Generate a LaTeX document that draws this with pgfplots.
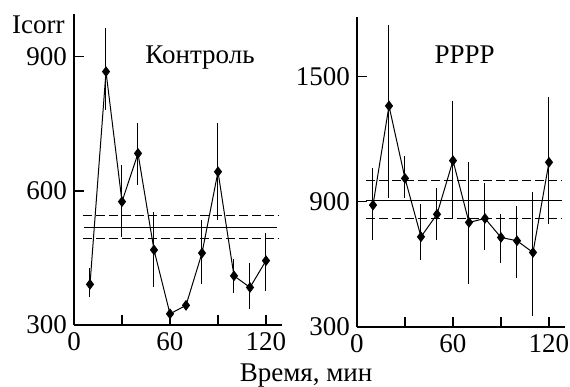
\documentclass[border=0pt]{standalone}
\usepackage{pgfplots}
\pgfplotsset{compat=1.18}
\usepackage{pgfplotstable}
\usepackage{fontspec}
\setmainfont{Liberation Serif}
\pgfplotstableread{
t v ep em
10 391 36 29
20 867 97 86
30 576 82 80
40 684 68 71
50 468 84 84
60 325 0 0
70 344 0 0
80 461 73 70
90 643 109 108
100 410 37 39
110 384 54 49
120 444 61 68
}\left
\pgfplotstableread{
t v ep em
10 884 176 168
20 1359 389 443
30 1012 107 96
40 732 156 109
50 840 127 121
60 1097 286 277
70 801 288 297
80 820 168 152
90 729 112 122
100 713 168 178
110 657 291 306
120 1089 315 297
}\right
\pgfplotsset{
  panel/.style={
    scale only axis, width=104pt,
    axis lines=left, axis line style={-, line width=0.7pt},
    xmin=0, xmax=130,
    xtick={0,30,60,90,120}, xticklabels={0,,60,,120},
    tick align=inside, major tick length=5pt,
    tick style={line width=0.6pt, black},
    tick label style={font=\fontsize{13.5}{16}\selectfont},
    /pgf/number format/assume math mode=true,
    /pgf/number format/1000 sep={},
    clip=false,
  },
  dat/.style={black, line width=0.5pt, mark=diamond*, mark size=2.3pt,
    mark options={solid, fill=black},
    error bars/.cd, y dir=both, y explicit,
    error bar style={line width=0.5pt}, error mark=none},
}
\begin{document}
\begin{tikzpicture}
\path[use as bounding box] (0,0) rectangle (285pt,193.5pt);
\begin{axis}[panel, at={(37pt,31pt)}, anchor=south west, height=155.5pt,
  ymin=300, ymax=996, ytick={300,600,900}]
\addplot[dat] table[x=t, y=v, y error plus=ep, y error minus=em] {\left};
\addplot[black, line width=0.5pt] coordinates {(6,518) (127,518)};
\addplot[black, line width=0.5pt, dash pattern=on 4.5pt off 2pt] coordinates {(5.5,544) (127.5,544)};
\addplot[black, line width=0.5pt, dash pattern=on 4.5pt off 2pt] coordinates {(5.5,493) (127.5,493)};
\end{axis}
\begin{axis}[panel, at={(178.5pt,30pt)}, anchor=south west, height=155pt,
  ymin=300, ymax=1785, ytick={300,900,1500}]
\addplot[dat] table[x=t, y=v, y error plus=ep, y error minus=em] {\right};
\addplot[black, line width=0.5pt] coordinates {(5.6,908) (128,908)};
\addplot[black, line width=0.5pt, dash pattern=on 4.5pt off 2pt] coordinates {(5.6,1004) (128,1004)};
\addplot[black, line width=0.5pt, dash pattern=on 4.5pt off 2pt] coordinates {(5.6,820) (128,820)};
\end{axis}
\begin{scope}[every node/.style={font=\fontsize{13.5}{16}\selectfont, inner sep=0pt}]
\node[anchor=base east] at (32.5pt,177pt) {Icorr};
\node[anchor=base] at (100pt,162pt) {Контроль};
\node[anchor=base] at (232.3pt,161.8pt) {РРРР};
\node[anchor=base] at (153pt,2.7pt) {Время, мин};
\end{scope}
\end{tikzpicture}
\end{document}
